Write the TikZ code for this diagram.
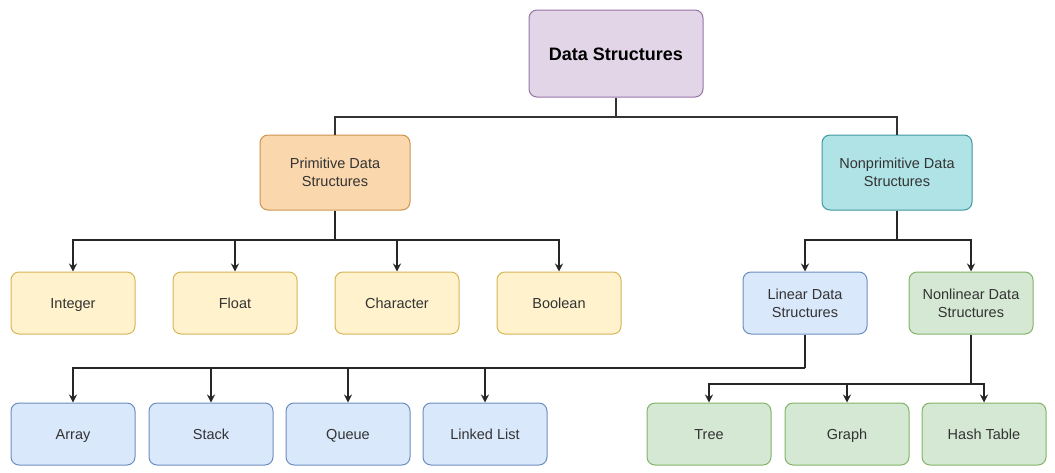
\documentclass[tikz,border=0pt]{standalone}
\usepackage{fontspec}
\setmainfont{Liberation Sans}
\usetikzlibrary{arrows.meta}
\definecolor{purpfill}{HTML}{E1D5E7}\definecolor{purpline}{HTML}{9673A6}
\definecolor{orfill}{HTML}{FAD7AC}\definecolor{orline}{HTML}{B46504}
\definecolor{tealfill}{HTML}{B0E3E6}\definecolor{tealline}{HTML}{0E8088}
\definecolor{yelfill}{HTML}{FFF2CC}\definecolor{yelline}{HTML}{D6B656}
\definecolor{bluefill}{HTML}{DAE8FC}\definecolor{blueline}{HTML}{6C8EBF}
\definecolor{grnfill}{HTML}{D5E8D4}\definecolor{grnline}{HTML}{82B366}
\tikzstyle{box}=[draw,line width=1pt,rounded corners=8pt,align=center,
  text=black!80,font=\fontsize{14.5}{18}\selectfont,
  minimum width=124pt,minimum height=62pt,inner sep=0pt]
\tikzstyle{leaf}=[box,text height=14pt,text depth=3pt]
\tikzstyle{bigbox}=[box,minimum width=150pt,minimum height=75pt]
\tikzstyle{bus}=[line width=2.5pt,draw=black!80]
\tikzstyle{link}=[line width=1.5pt,draw=black!85,-{Stealth[length=8pt,width=8pt]}]

\begin{document}
\begin{tikzpicture}[x=1pt,y=-1pt]
  \useasboundingbox (0,0) rectangle (1055,472);
  % top
  \node(ds)[leaf,fill=purpfill,draw=purpline,minimum width=174pt,minimum height=87pt,
    font=\fontsize{18}{22}\selectfont\bfseries,text=black,text height=17pt,text depth=4pt] at (616,53.5) {Data Structures};
  \node(prim)[bigbox,fill=orfill,draw=orline!70] at (335,172.5) {Primitive Data\\Structures};
  \node(nprim)[bigbox,fill=tealfill,draw=tealline!80] at (897,172.5) {Nonprimitive Data\\Structures};
  % primitive kinds
  \node(int)[leaf,fill=yelfill,draw=yelline] at (73,303) {Integer};
  \node(flt)[leaf,fill=yelfill,draw=yelline] at (235,303) {Float};
  \node(chr)[leaf,fill=yelfill,draw=yelline] at (397,303) {Character};
  \node(bool)[leaf,fill=yelfill,draw=yelline] at (559,303) {Boolean};
  % nonprimitive kinds
  \node(lin)[box,fill=bluefill,draw=blueline] at (805,303) {Linear Data\\Structures};
  \node(nlin)[box,fill=grnfill,draw=grnline] at (971,303) {Nonlinear Data\\Structures};
  \node(arr)[leaf,fill=bluefill,draw=blueline] at (73,434) {Array};
  \node(stk)[leaf,fill=bluefill,draw=blueline] at (211,434) {Stack};
  \node(que)[leaf,fill=bluefill,draw=blueline] at (348,434) {Queue};
  \node(lst)[leaf,fill=bluefill,draw=blueline] at (485,434) {Linked List};
  \node(tree)[leaf,fill=grnfill,draw=grnline] at (709,434) {Tree};
  \node(grph)[leaf,fill=grnfill,draw=grnline] at (847,434) {Graph};
  \node(hash)[leaf,fill=grnfill,draw=grnline] at (984,434) {Hash Table};
  % connectors
  \coordinate(j0) at (616,117);
  \coordinate(j1) at (335,240);
  \coordinate(j2) at (897,240);
  \coordinate(j3) at (805,368);
  \coordinate(j4) at (971,384);
  \draw[bus] (ds) -- (j0) -| (prim);
  \draw[bus] (j0) -| (nprim);
  \draw[link,-] (prim) -- (j1);
  \foreach \n in {int,flt,chr,bool} \draw[link] (j1) -| (\n);
  \draw[link,-] (nprim) -- (j2);
  \foreach \n in {lin,nlin} \draw[link] (j2) -| (\n);
  \draw[link,-] (lin) -- (j3);
  \foreach \n in {arr,stk,que,lst} \draw[link] (j3) -| (\n);
  \draw[link,-] (nlin) -- (j4);
  \foreach \n in {tree,grph,hash} \draw[link] (j4) -| (\n);
\end{tikzpicture}
\end{document}
